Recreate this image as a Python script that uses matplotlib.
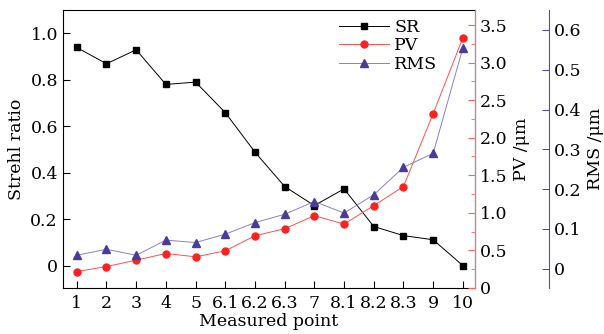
import matplotlib
matplotlib.use('Agg')
import matplotlib.pyplot as plt
from matplotlib.ticker import MultipleLocator

plt.rcParams['font.family'] = ['DejaVu Serif']
plt.rcParams['mathtext.fontset'] = 'dejavuserif'

# Data
points = ['1', '2', '3', '4', '5', '6.1', '6.2', '6.3', '7', '8.1', '8.2', '8.3', '9', '10']
sr = [0.939, 0.869, 0.929, 0.780, 0.790, 0.659, 0.489, 0.341, 0.259, 0.331, 0.169, 0.130, 0.112, 0.001]
pv = [0.218, 0.284, 0.370, 0.458, 0.414, 0.494, 0.694, 0.788, 0.961, 0.850, 1.095, 1.350, 2.320, 3.330]
rms = [0.034, 0.049, 0.034, 0.072, 0.066, 0.087, 0.116, 0.137, 0.169, 0.140, 0.186, 0.255, 0.290, 0.555]

x = list(range(len(points)))

fig = plt.figure(figsize=(6.04, 3.34), dpi=100)
ax = fig.add_axes([0.104, 0.138, 0.682, 0.832])
ax2 = ax.twinx()
ax3 = ax.twinx()
ax3.spines['right'].set_position(('axes', 1.18))

red = '#ff2020'
blue = '#4a3a9a'

l1, = ax.plot(x, sr, '-s', color='black', lw=0.7, ms=4.5, label='SR')
l2, = ax2.plot(x, pv, '-o', color='#ff5050', mfc=red, mec=red, lw=0.7, ms=5, label='PV')
l3, = ax3.plot(x, rms, '-^', color='#8a80c8', mfc=blue, mec=blue, lw=0.7, ms=5.5, label='RMS')

ax.set_xlim(-0.47, 13.4)
ax.set_ylim(-0.095, 1.1)
ax2.set_ylim(0, 3.7)
ax3.set_ylim(-0.048, 0.65)

ax.set_xticks(x)
ax.set_xticklabels(points)
ax.set_yticks([0, 0.2, 0.4, 0.6, 0.8, 1.0])
ax.set_yticklabels(['0', '0.2', '0.4', '0.6', '0.8', '1.0'])
ax2.set_yticks([0, 0.5, 1.0, 1.5, 2.0, 2.5, 3.0, 3.5])
ax2.set_yticklabels(['0', '0.5', '1.0', '1.5', '2.0', '2.5', '3.0', '3.5'])
ax2.yaxis.set_minor_locator(MultipleLocator(0.25))
ax3.set_yticks([0, 0.1, 0.2, 0.3, 0.4, 0.5, 0.6])
ax3.set_yticklabels(['0', '0.1', '0.2', '0.3', '0.4', '0.5', '0.6'])

fs = 12.5
ax.tick_params(axis='both', direction='in', labelsize=fs, length=5, width=0.8)
ax.tick_params(axis='x', pad=5)
ax2.tick_params(axis='y', which='major', direction='in', labelsize=fs, length=5,
                colors='#ff6060', labelcolor='black')
ax2.tick_params(axis='y', which='minor', direction='in', length=3, colors='#ff6060')
ax3.tick_params(axis='y', direction='in', labelsize=fs, length=5,
                colors='#5a4aaa', labelcolor='black')

ax2.spines['right'].set_color('#ff7070')
ax3.spines['right'].set_color('#5a4aaa')
for a in (ax2, ax3):
    a.spines['left'].set_visible(False)
    a.spines['top'].set_visible(False)
    a.spines['bottom'].set_visible(False)
ax3.spines['right'].set_bounds(-0.048, 0.65)

ax.set_xlabel('Measured point', fontsize=fs, labelpad=1)
ax.set_ylabel('Strehl ratio', fontsize=fs, labelpad=4)
ax2.set_ylabel('PV /μm', fontsize=fs, labelpad=4)
ax3.set_ylabel('RMS /μm', fontsize=fs, labelpad=4)

ax3.legend([l1, l2, l3], ['SR', 'PV', 'RMS'], loc='upper right', frameon=False,
           fontsize=fs, handlelength=2.9, borderaxespad=0.1, labelspacing=0.1,
           handletextpad=0.3, bbox_to_anchor=(0.93, 1.0), bbox_transform=ax.transAxes)

fig.savefig('out.png', dpi=100)
